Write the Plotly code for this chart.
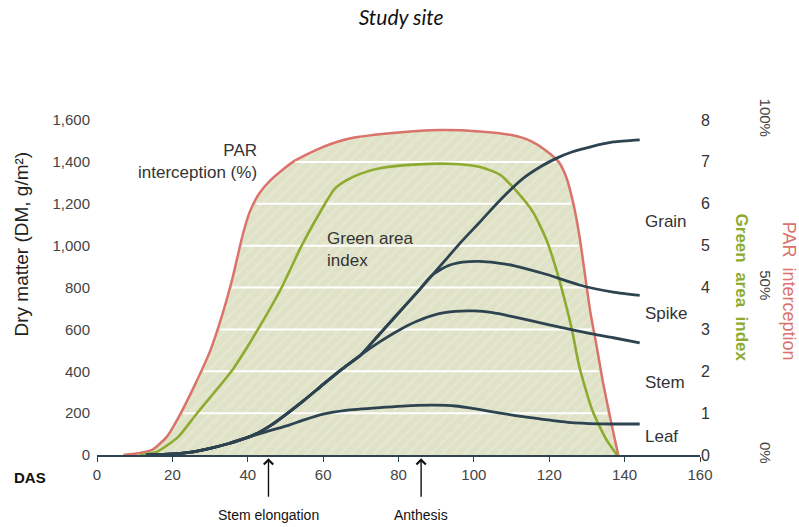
import numpy as np
import plotly.graph_objects as go

# ---- Data (days after sowing, DAS) ----
# PAR interception (%)
par_das = [7, 11, 14.6, 18.5, 22, 26, 30, 33, 36, 38.5, 40.5, 43, 46, 52, 60, 67, 80, 91,
           101.6, 110, 115, 119, 122.5, 124.5, 126, 127.3, 128.4, 129.7, 131, 132.5, 134.2, 136.2, 138.3]
par_pct = [0, 0.5, 1.5, 5.4, 12, 21, 31, 41, 53, 65, 72.5, 78, 82, 87.5, 92, 94.5, 96.3, 97,
           96.6, 95.5, 93.8, 91, 87.5, 83, 77, 70, 62.5, 52, 42, 33, 22, 11, 0]

# Green area index
gai_das = [11.4, 16, 21.6, 26.4, 31, 36.3, 42.7, 49, 54.3, 60.5, 63, 66, 70, 75, 85, 95,
           101.6, 107, 111.3, 115.7, 119.3, 121.9, 124.1, 126, 128, 131.5, 135.2, 138]
gai = [0, 0.08, 0.44, 0.98, 1.48, 2.08, 3.0, 4.0, 5.0, 6.0, 6.35, 6.55, 6.72, 6.85, 6.94, 6.95,
       6.88, 6.69, 6.3, 5.8, 5.13, 4.42, 3.7, 3.0, 2.1, 1.05, 0.36, 0]

# Cumulative dry matter (g/m2): leaf, + stem, + spike, + grain
leaf_das = [13, 20, 25, 30, 35, 40, 45, 51, 55, 60, 66, 75, 85, 90, 95, 100, 107, 115, 125, 133, 144]
leaf_dm = [0, 5, 14, 32, 55, 84, 112, 143, 168, 195, 213, 226, 237, 238, 234, 222, 200, 178, 156, 149, 148]

stem_das = [13, 20, 25, 30, 35, 40, 43, 46, 50, 55, 60, 65, 70, 75, 80, 85, 90, 95, 100, 105, 110,
            120, 130, 137, 144]
stem_dm = [0, 5, 14, 32, 55, 84, 108, 140, 192, 262, 337, 410, 478, 540, 595, 640, 672, 686, 688, 680, 662,
           622, 583, 560, 535]

spike_das = [13, 20, 25, 30, 35, 40, 43, 46, 50, 55, 60, 65, 70, 75, 80, 85, 89, 93, 97, 101.6, 106,
             110.5, 119.4, 128, 137, 144]
spike_dm = [0, 5, 14, 32, 55, 84, 108, 140, 192, 262, 337, 410, 478, 578, 678, 778, 860, 903, 921, 925, 918,
            905, 862, 812, 778, 762]

grain_das = [13, 20, 25, 30, 35, 40, 43, 46, 50, 55, 60, 65, 70, 75, 80, 85, 89, 93, 97, 101.6, 107,
             113, 118, 122, 126, 131, 137, 144]
grain_dm = [0, 5, 14, 32, 55, 84, 108, 140, 192, 262, 337, 410, 478, 578, 678, 778, 860, 943, 1025, 1113, 1218,
            1320, 1380, 1418, 1447, 1472, 1495, 1505]

# Axis settings
das_range = [0, 160]
dm_range = [0, 1600]
dm_ticks = [0, 200, 400, 600, 800, 1000, 1200, 1400, 1600]
gai_range = [0, 8]
par_range = [0, 100]
par_ticks = [0, 50, 100]
par_ticktext = ["0%", "50%", "100%"]

RED = "#d9736b"
GREEN = "#8cab2f"
DARK = "#2d4450"
FILL = "#dfe2c6"
HATCH = "#eceedd"
FONT = "Liberation Sans, Arial, sans-serif"

fig = go.Figure()

# Canopy PAR interception, filled with a light hatched area
fig.add_trace(go.Scatter(
    x=par_das, y=par_pct, yaxis="y", mode="lines",
    line=dict(color=RED, width=2.5, shape="spline", smoothing=0.6),
    fill="tozeroy", fillcolor=FILL,
    fillpattern=dict(shape="/", bgcolor=FILL, fgcolor=HATCH, size=8, solidity=0.25),
    hoverinfo="skip"))

# White grid lines clipped to the filled canopy area
peak = int(np.argmax(par_pct))
rise_x, rise_y = np.array(par_das[:peak + 1]), np.array(par_pct[:peak + 1])
fall_x, fall_y = np.array(par_das[peak:])[::-1], np.array(par_pct[peak:])[::-1]
gx, gy = [], []
for level in dm_ticks[1:-1]:
    pct = level / dm_range[1] * par_range[1]
    x0 = float(np.interp(pct, rise_y, rise_x))
    x1 = float(np.interp(pct, fall_y, fall_x))
    gx += [x0 + 0.6, x1 - 0.6, None]
    gy += [pct, pct, None]
fig.add_trace(go.Scatter(x=gx, y=gy, yaxis="y", mode="lines",
                         line=dict(color="white", width=2), hoverinfo="skip"))

# Green area index
fig.add_trace(go.Scatter(
    x=gai_das, y=gai, yaxis="y2", mode="lines",
    line=dict(color=GREEN, width=2.6, shape="spline", smoothing=0.6), hoverinfo="skip"))

# Dry matter partitioning curves
for xs, ys in [(leaf_das, leaf_dm), (stem_das, stem_dm), (spike_das, spike_dm), (grain_das, grain_dm)]:
    fig.add_trace(go.Scatter(
        x=xs, y=ys, yaxis="y3", mode="lines",
        line=dict(color=DARK, width=2.8, shape="spline", smoothing=0.6), hoverinfo="skip"))

ann = []
# Curve labels
ann.append(dict(x=43, y=1400, xref="x", yref="y3", text="PAR<br>interception (%)", align="right",
                xanchor="right", yanchor="middle", showarrow=False, font=dict(size=17, color="#333")))
ann.append(dict(x=60.5, y=980, xref="x", yref="y3", text="Green area<br>index", align="left",
                xanchor="left", yanchor="middle", showarrow=False, font=dict(size=17, color="#333")))
for name, yv in [("Grain", 1113), ("Spike", 678), ("Stem", 344), ("Leaf", 86)]:
    ann.append(dict(x=144.8, y=yv, xref="x", yref="y3", text=name, xanchor="left", yanchor="middle",
                    showarrow=False, font=dict(size=17, color="#333")))

# Axis titles
ann.append(dict(x=-0.109, y=0.63, xref="paper", yref="paper", text="Dry matter (DM, g/m²)",
                xanchor="center", yanchor="middle",
                textangle=-90, showarrow=False, font=dict(size=19, color="#222")))
ann.append(dict(x=0.932, y=0.5, xref="paper", yref="paper", text="<b>Green  area  index</b>",
                xanchor="center", yanchor="middle",
                textangle=90, showarrow=False, font=dict(size=17, color=GREEN)))
ann.append(dict(x=1.0, y=0.49, xref="paper", yref="paper", text="PAR  interception",
                xanchor="center", yanchor="middle",
                textangle=90, showarrow=False, font=dict(size=18, color=RED)))
ann.append(dict(x=-0.097, y=-0.066, xref="paper", yref="paper", text="<b>DAS</b>",
                xanchor="center", yanchor="middle",
                showarrow=False, font=dict(size=15, color="#111")))

# Developmental stage markers
for stage, das in [("Stem elongation", 45.5), ("Anthesis", 86)]:
    ann.append(dict(x=das, y=-0.01, xref="x", yref="paper", text="", showarrow=True,
                    ax=0, ay=40, arrowhead=4, arrowsize=1.3, arrowwidth=1.4, arrowcolor="#111"))
    ann.append(dict(x=das, y=-0.18, xref="x", yref="paper", text=stage, showarrow=False,
                    xanchor="center", yanchor="middle", font=dict(size=14, color="#111")))

tickfont = dict(family=FONT, size=15, color="#444")
fig.update_layout(
    width=799, height=527,
    margin=dict(l=97, r=10, t=120, b=72, autoexpand=False),
    plot_bgcolor="white", paper_bgcolor="white",
    font=dict(family=FONT),
    showlegend=False,
    title=dict(text="<i>Study site</i>", x=0.502, xref="container", y=0.966, yref="container",
               xanchor="center", yanchor="middle",
               font=dict(family="Lato, sans-serif", size=21, color="#111")),
    xaxis=dict(domain=[0, 603 / 692], range=das_range, dtick=20, showgrid=False, zeroline=False,
               showline=True, linecolor=DARK, linewidth=1.5, ticks="outside", ticklen=5,
               tickcolor=DARK, tickwidth=1.3, tickfont=tickfont),
    yaxis=dict(range=par_range, anchor="free", position=0.952, side="right", tickvals=par_ticks,
               ticktext=par_ticktext, tickangle=90, showgrid=False, zeroline=False, showline=False,
               ticks="", tickfont=tickfont),
    yaxis2=dict(range=gai_range, dtick=1, overlaying="y", side="right", anchor="x", showgrid=False,
                zeroline=False, showline=False, ticks="", tickfont=dict(family=FONT, size=16, color="#333")),
    yaxis3=dict(range=dm_range, tickvals=dm_ticks, tickformat=",", overlaying="y", side="left",
                anchor="x", showgrid=False, zeroline=False, showline=False, ticks="",
                ticklabelstandoff=6, tickfont=tickfont),
    annotations=ann,
)

fig.write_html("out.html")
